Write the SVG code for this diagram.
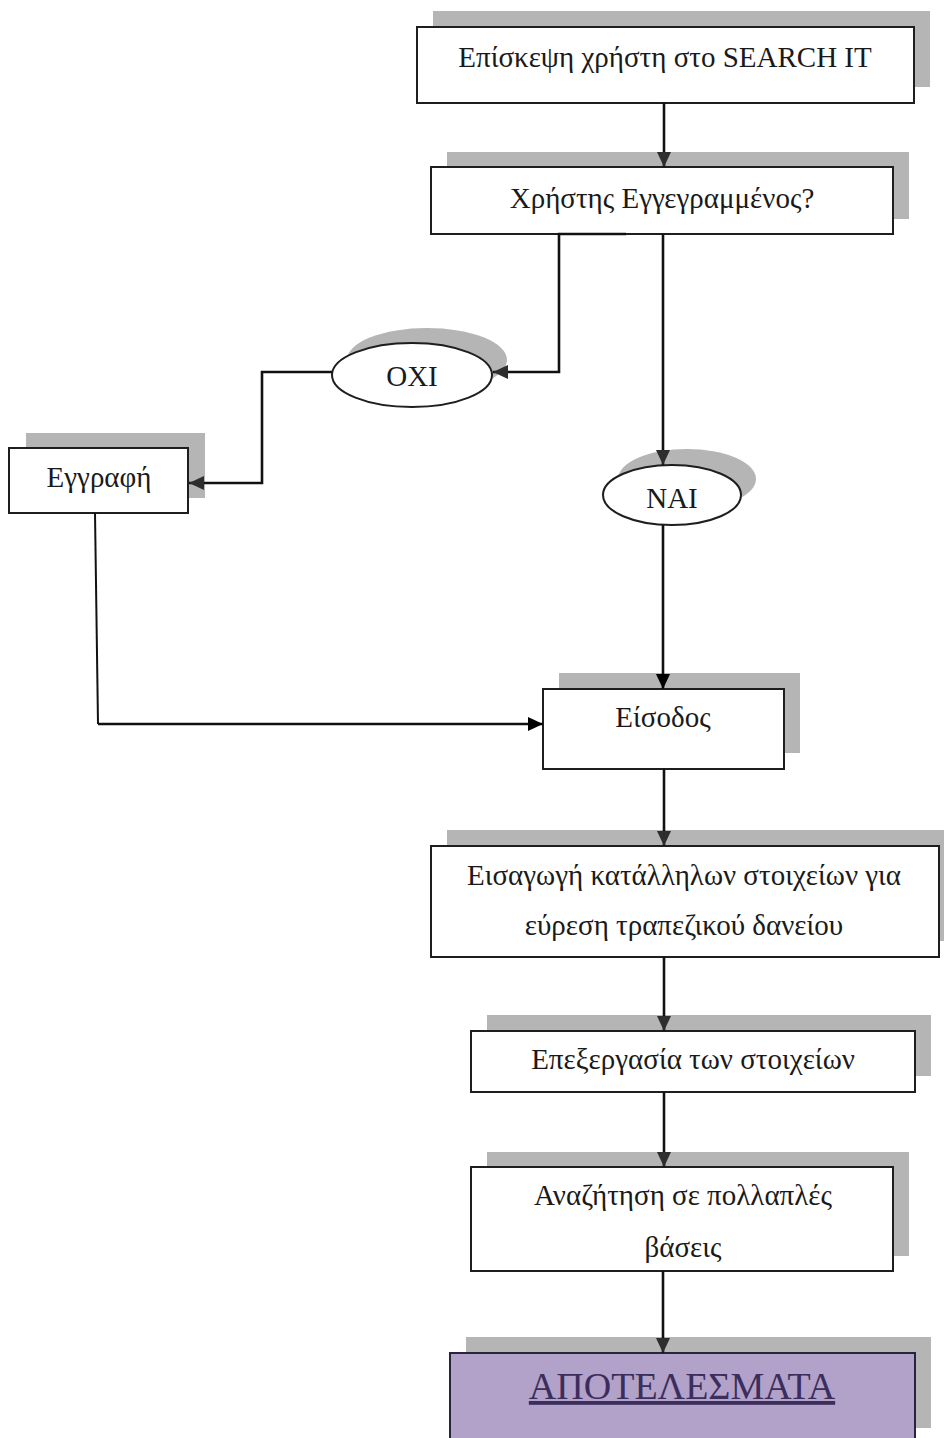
<svg xmlns="http://www.w3.org/2000/svg" width="944" height="1438" viewBox="0 0 944 1438">
<style>
.sh{fill:#b5b5b5;stroke:none}
.bx{fill:#ffffff;stroke:#1e1e1e;stroke-width:2}
.t{font-family:"Liberation Serif","Times New Roman",serif;font-size:29px;fill:#1a1a1a;text-anchor:middle}
.c{fill:none;stroke:#111111;stroke-width:2.6}
.ct{fill:none;stroke:#111111;stroke-width:2}
</style>
<defs>
<marker id="ah" markerUnits="userSpaceOnUse" markerWidth="16" markerHeight="14" viewBox="0 0 16 14" refX="15" refY="7" orient="auto">
<path d="M0,0 L15,7 L0,14 Z" fill="#2e2e2e"/>
</marker>
<marker id="ahb" markerUnits="userSpaceOnUse" markerWidth="16" markerHeight="14" viewBox="0 0 16 14" refX="15" refY="7" orient="auto">
<path d="M0,0 L15,7 L0,14 Z" fill="#000000"/>
</marker>
</defs>
<rect width="944" height="1438" fill="#ffffff"/>
<g id="node-visit">
<rect class="sh" x="433" y="11" width="497" height="76"/>
<rect class="bx" x="417" y="27" width="497" height="76"/>
<text class="t" x="665" y="67">Επίσκεψη χρήστη στο SEARCH IT</text>
</g>
<g id="node-registered">
<rect class="sh" x="447" y="152" width="462" height="67"/>
<rect class="bx" x="431" y="167" width="462" height="67"/>
<text class="t" x="662" y="208">Χρήστης Εγγεγραμμένος?</text>
</g>
<g id="node-oxi">
<ellipse class="sh" cx="427" cy="360" rx="80" ry="32"/>
<ellipse class="bx" cx="412" cy="375" rx="80" ry="32"/>
<text class="t" x="412" y="386">ΟΧΙ</text>
</g>
<g id="node-nai">
<ellipse class="sh" cx="687" cy="479" rx="69" ry="30"/>
<ellipse class="bx" cx="672" cy="495" rx="69" ry="30"/>
<text class="t" x="672" y="508">ΝΑΙ</text>
</g>
<g id="node-register">
<rect class="sh" x="26" y="433" width="179" height="65"/>
<rect class="bx" x="9" y="448" width="179" height="65"/>
<text class="t" x="99" y="487">Εγγραφή</text>
</g>
<g id="node-login">
<rect class="sh" x="559" y="673" width="241" height="80"/>
<rect class="bx" x="543" y="689" width="241" height="80"/>
<text class="t" x="663" y="727">Είσοδος</text>
</g>
<g id="node-input">
<rect class="sh" x="447" y="830" width="510" height="111"/>
<rect class="bx" x="431" y="846" width="508" height="111"/>
<text class="t" x="684" y="885">Εισαγωγή κατάλληλων στοιχείων για</text>
<text class="t" x="684" y="935">εύρεση τραπεζικού δανείου</text>
</g>
<g id="node-process">
<rect class="sh" x="487" y="1015" width="444" height="61"/>
<rect class="bx" x="471" y="1031" width="444" height="61"/>
<text class="t" x="693" y="1069">Επεξεργασία των στοιχείων</text>
</g>
<g id="node-search">
<rect class="sh" x="487" y="1152" width="422" height="104"/>
<rect class="bx" x="471" y="1167" width="422" height="104"/>
<text class="t" x="683" y="1205">Αναζήτηση σε πολλαπλές</text>
<text class="t" x="683" y="1257">βάσεις</text>
</g>
<g id="node-results">
<rect class="sh" x="466" y="1337" width="465" height="91"/>
<rect x="450" y="1353" width="465" height="100" fill="#b2a1c8" stroke="#2a2340" stroke-width="2"/>
<text x="682" y="1399" font-family="'Liberation Serif','Times New Roman',serif" font-size="38" fill="#3b2d5c" text-anchor="middle" text-decoration="underline">ΑΠΟΤΕΛΕΣΜΑΤΑ</text>
</g>
<g id="connectors">
<line class="c" x1="664" y1="103" x2="664" y2="167" marker-end="url(#ah)"/>
<path class="c" d="M626,234 H559 V372 H493" marker-end="url(#ah)"/>
<path class="c" d="M332,372 H262 V483 H189" marker-end="url(#ah)"/>
<line class="c" x1="663" y1="234" x2="663" y2="465" marker-end="url(#ah)"/>
<line class="c" x1="663" y1="525" x2="663" y2="689" marker-end="url(#ahb)"/>
<path class="ct" d="M95,513 L98,724" />
<path class="c" d="M98,724 H543" marker-end="url(#ahb)"/>
<line class="c" x1="664" y1="769" x2="664" y2="846" marker-end="url(#ah)"/>
<line class="c" x1="664" y1="957" x2="664" y2="1031" marker-end="url(#ah)"/>
<line class="c" x1="664" y1="1092" x2="664" y2="1167" marker-end="url(#ah)"/>
<line class="c" x1="663" y1="1271" x2="663" y2="1353" marker-end="url(#ah)"/>
</g>
</svg>
